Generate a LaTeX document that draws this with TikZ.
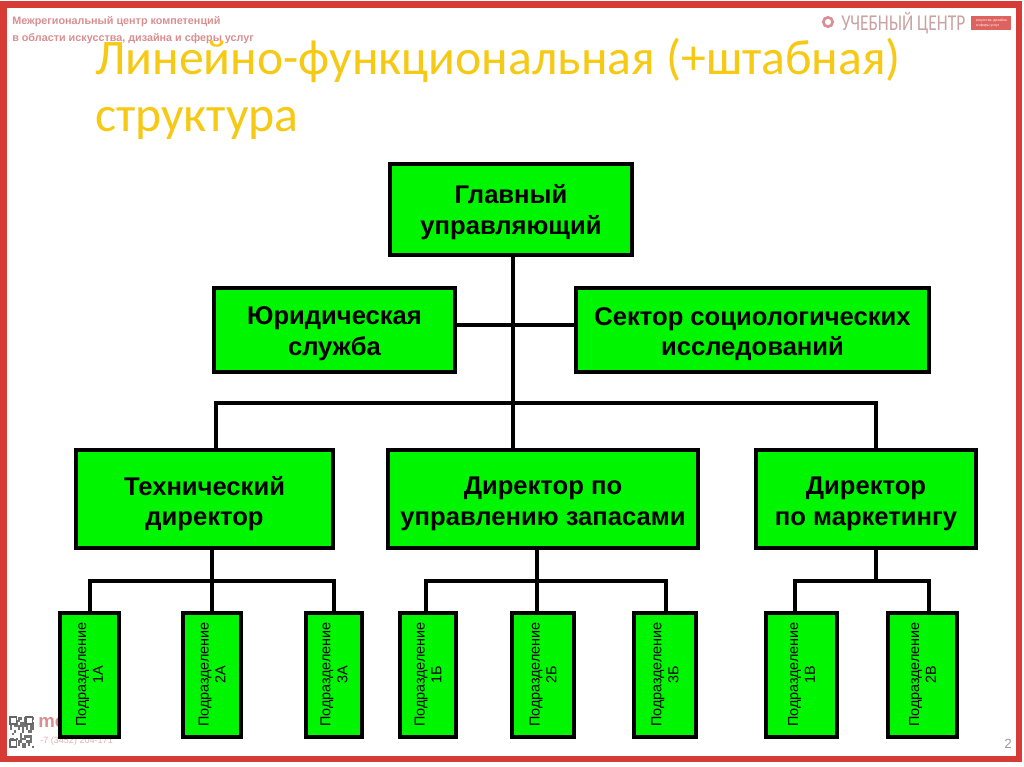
\documentclass[tikz,border=0pt]{standalone}
\usepackage{fontspec}
\setmainfont{Liberation Sans}
\newfontfamily\titlefont{Carlito}
\usetikzlibrary{positioning}
\definecolor{frame}{HTML}{D63B36}
\definecolor{boxgreen}{HTML}{00F500}
\definecolor{titleyellow}{HTML}{F6C915}
\definecolor{faint}{HTML}{D98F92}
\definecolor{logogrey}{HTML}{C9A3A3}
\def\px{0.75pt}
\tikzset{
  bigbox/.style = {draw, fill=boxgreen, line width=3pt, inner sep=0pt},
  biglabel/.style = {align=center, inner sep=0pt, font=\bfseries\fontsize{19.2}{23}\selectfont},
  subbox/.style = {draw, fill=boxgreen, line width=3pt, inner sep=0pt, minimum height=124*\px},
  sublabel/.style = {rotate=90, align=center, inner sep=0pt, font=\fontsize{10.8}{12.6}\selectfont},
  link/.style = {line width=3pt}
}
\begin{document}
\begin{tikzpicture}[x=0.75pt, y=-0.75pt]
\useasboundingbox (0,0) rectangle (1024,767);
\fill[white] (0,0) rectangle (1024,767);
\draw[frame, line width=5.2pt] (3.5,4.5) rectangle (1019,759);

% header and footer of the slide
\node[anchor=north west, align=left, inner sep=0pt, text=faint, font=\bfseries\fontsize{8.1}{12.6}\selectfont] (centre) at (12,16) {Межрегиональный центр компетенций\\в области искусства, дизайна и сферы услуг};
\node[draw=faint, line width=2pt, circle, inner sep=0pt, minimum size=7pt] (dot) at (828,22) {};
\node[anchor=west, inner sep=0pt, text=logogrey, font=\titlefont\fontsize{17}{17}\selectfont] (school) at (841,23) {\scalebox{0.77}[1]{УЧЕБНЫЙ ЦЕНТР}};
\node[fill=frame!80, text=white, anchor=west, align=left, minimum width=30pt, minimum height=10.5pt, inner sep=0.5pt, font=\fontsize{2.6}{4.2}\selectfont] (tag) at (971,23) {искусства, дизайна\\и сферы услуг};
\node[anchor=west, inner sep=0pt, text=faint, font=\bfseries\fontsize{14}{14}\selectfont] (site) at (38,723) {mo};
\node[anchor=west, inner sep=0pt, text=faint!70, font=\fontsize{6.8}{7}\selectfont] (phone) at (40,741) {-7 (3452) 204-171};
\node[anchor=east, inner sep=0pt, text=black!40, font=\fontsize{10}{10}\selectfont] (page) at (1012,744) {2};
% qr code
\pgfmathsetseed{17}
\foreach \i in {0,...,11}
  \foreach \j in {0,...,11} {
    \pgfmathparse{rnd>0.5 ? 1 : 0}
    \ifnum\pgfmathresult=1
      \fill[black!55] (10+2*\i,717+2.6*\j) rectangle ++(2,2.6);
    \fi
  }
\foreach \qx/\qy in {10/717, 26/717, 10/740}
  \draw[black!60, line width=0.8pt, fill=white] (\qx,\qy) rectangle ++(6.5,7);

\node[anchor=north west, align=left, inner sep=0pt, text=titleyellow, font=\titlefont\fontsize{37.3}{42.5}\selectfont] (title) at (95,38) {Линейно-функциональная (+штабная)\\структура};

% coordinates of the branches
\coordinate (topbus) at (513,403);
\coordinate (staff) at (513,325);
\coordinate (tdrop) at (216,403);
\coordinate (mdrop) at (876,403);
\coordinate (tbus) at (212,581);
\coordinate (zbus) at (537,581);
\coordinate (mbus) at (876,581);
\coordinate (zleft) at (426,581);
\coordinate (zright) at (666,581);
\coordinate (mleft) at (795,581);
\coordinate (mright) at (929,581);

% boxes
\node[bigbox, minimum width=242*\px, minimum height=91*\px] (gm) at (511,209.5) {};
\node[bigbox, minimum width=241*\px, minimum height=84*\px] (legal) at (334.5,330) {};
\node[bigbox, minimum width=353*\px, minimum height=84*\px] (sector) at (752.5,330) {};
\node[bigbox, minimum width=257*\px, minimum height=98*\px] (tech) at (204.5,499) {};
\node[bigbox, minimum width=310*\px, minimum height=98*\px] (stock) at (543,499) {};
\node[bigbox, minimum width=220*\px, minimum height=98*\px] (market) at (866,499) {};

\node[biglabel, yshift=-2.2pt] (lgm) at (gm) {Главный\\управляющий};
\node[biglabel, yshift=-3pt] (llegal) at (legal) {Юридическая\\служба};
\node[biglabel, yshift=-3pt] (lsector) at (sector) {Сектор социологических\\исследований};
\node[biglabel, yshift=-3.4pt] (ltech) at (tech) {Технический\\директор};
\node[biglabel, yshift=-3.4pt] (lstock) at (stock) {Директор по\\управлению запасами};
\node[biglabel, yshift=-3.4pt] (lmarket) at (market) {Директор\\по маркетингу};

\node[subbox, minimum width=59*\px] (t1) at (89.5,674.5) {};
\node[subbox, minimum width=58*\px] (t2) at (212,674.5) {};
\node[subbox, minimum width=56*\px] (t3) at (334,674.5) {};
\node[subbox, minimum width=56*\px] (z1) at (428,674.5) {};
\node[subbox, minimum width=62*\px] (z2) at (543,674.5) {};
\node[subbox, minimum width=62*\px] (z3) at (665,674.5) {};
\node[subbox, minimum width=71*\px] (m1) at (801.5,674.5) {};
\node[subbox, minimum width=69*\px] (m2) at (922.5,674.5) {};

\node[sublabel] (lt1) at (t1) {Подразделение\\1А};
\node[sublabel] (lt2) at (t2) {Подразделение\\2А};
\node[sublabel] (lt3) at (t3) {Подразделение\\3А};
\node[sublabel] (lz1) at (z1) {Подразделение\\1Б};
\node[sublabel] (lz2) at (z2) {Подразделение\\2Б};
\node[sublabel] (lz3) at (z3) {Подразделение\\3Б};
\node[sublabel] (lm1) at (m1) {Подразделение\\1В};
\node[sublabel] (lm2) at (m2) {Подразделение\\2В};

% connectors
\begin{scope}[link]
\draw (gm.south -| topbus) -- (stock.north -| topbus);
\draw (legal.east |- staff) -- (sector.west |- staff);
\draw (tech.north -| tdrop) -- (tdrop) -- (mdrop) -- (market.north -| mdrop);
\draw (tech.south -| tbus) -- (tbus);
\draw (stock.south -| zbus) -- (zbus);
\draw (market.south -| mbus) -- (mbus);
\draw (t1.north) |- (t3.north |- tbus) -- (t3.north);
\draw (t2.north) -- (t2.north |- tbus);
\draw (z1.north -| zleft) -- (zleft) -- (zright) -- (z3.north -| zright);
\draw (zbus) -- (z2.north -| zbus);
\draw (m1.north -| mleft) -- (mleft) -- (mright) -- (m2.north -| mright);
\end{scope}
\end{tikzpicture}
\end{document}
